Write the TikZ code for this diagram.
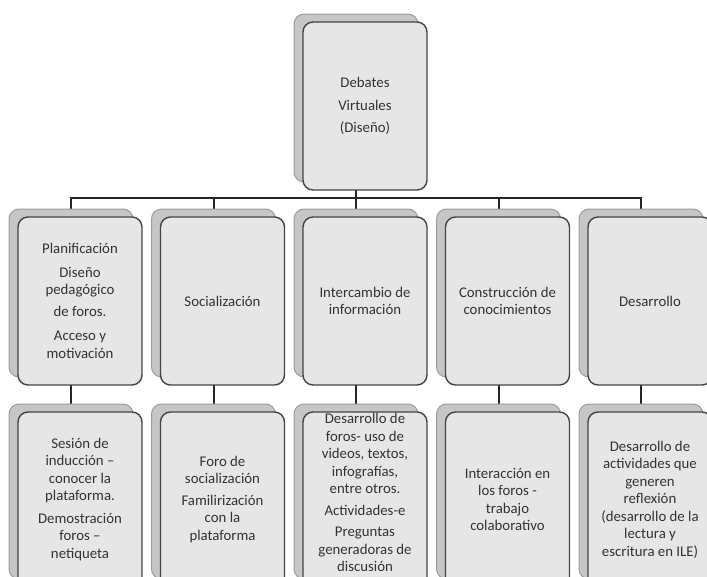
\documentclass[tikz,border=0pt]{standalone}
\usepackage{fontspec}
\setmainfont{Carlito}
\usetikzlibrary{positioning,backgrounds}

\definecolor{cardfill}{HTML}{E6E6E6}
\definecolor{cardback}{HTML}{C6C6C6}
\definecolor{carddraw}{HTML}{444444}
\definecolor{backdraw}{HTML}{9C9C9C}
\definecolor{cardtext}{HTML}{333333}

\tikzset{
  card/.style={rectangle, draw=carddraw, line width=1.4pt, rounded corners=10pt,
    fill=cardfill, minimum width=124pt, minimum height=168pt, inner sep=0pt,
    align=center, text=cardtext, font=\fontsize{14.8}{17.5}\selectfont},
  backcard/.style={card, draw=backdraw, fill=cardback, line width=1pt},
  tall/.style={minimum height=175pt},
  link/.style={line width=2pt, black!85}
}

\begin{document}
\begin{tikzpicture}[x=1pt, y=-1pt]

    \useasboundingbox (0,0) rectangle (707,576);

    %% top card
    \node[backcard] (topb) at (356,98) {};
    \node[card] (top) at ([shift={(9,8)}]topb.center) {Debates\\[5pt] Virtuales\\[5pt] (Diseño)};

    %% first row
    \node[backcard, below=26pt of topb] (b13) {};
    \node[backcard, left=17.5pt of b13] (b12) {};
    \node[backcard, left=17.5pt of b12] (b11) {};
    \node[backcard, right=17.5pt of b13] (b14) {};
    \node[backcard, right=17.5pt of b14] (b15) {};

    \node[card] (f11) at ([shift={(9,8)}]b11.center)
        {Planificación\\[6pt] Diseño\\ pedagógico\\[4pt] de foros.\\[7pt] Acceso y\\ motivación};
    \node[card] (f12) at ([shift={(9,8)}]b12.center) {Socialización};
    \node[card] (f13) at ([shift={(9,8)}]b13.center) {Intercambio de\\ información};
    \node[card] (f14) at ([shift={(9,8)}]b14.center) {Construcción de\\ conocimientos};
    \node[card] (f15) at ([shift={(9,8)}]b15.center) {Desarrollo};

    %% second row
    \node[backcard, tall, below=26pt of b11] (b21) {};
    \node[card, tall] (f21) at ([shift={(9,8)}]b21.center)
        {Sesión de\\ inducción –\\ conocer la\\ plataforma.\\[5pt] Demostración\\ foros –\\ netiqueta};
    \node[backcard, tall, below=26pt of b12] (b22) {};
    \node[card, tall] (f22) at ([shift={(9,8)}]b22.center)
        {Foro de\\ socialización\\[4pt] Familirización\\ con la\\ plataforma};
    \node[backcard, tall, below=26pt of b13] (b23) {};
    \node[card, tall] (f23) at ([shift={(9,8)}]b23.center)
        {Desarrollo de\\ foros- uso de\\ videos, textos,\\ infografías,\\ entre otros.\\[4pt] Actividades-e\\[4pt] Preguntas\\ generadoras de\\ discusión\\[-4pt]\mbox{}};
    \node[backcard, tall, below=26pt of b14] (b24) {};
    \node[card, tall] (f24) at ([shift={(9,8)}]b24.center)
        {Interacción en\\ los foros -\\ trabajo\\ colaborativo};
    \node[backcard, tall, below=26pt of b15] (b25) {};
    \node[card, tall] (f25) at ([shift={(9,8)}]b25.center)
        {Desarrollo de\\ actividades que\\ generen\\ reflexión\\ (desarrollo de la\\ lectura y\\ escritura en ILE)};

    %% connectors
    \begin{pgfonlayer}{background}
    \foreach \c in {1,...,5} {
        \draw[link] (topb.south) -- ++(0,15) -| (b1\c.north);
        \draw[link] (b1\c.south) -- (b2\c.north);
    }
    \end{pgfonlayer}

\end{tikzpicture}
\end{document}
